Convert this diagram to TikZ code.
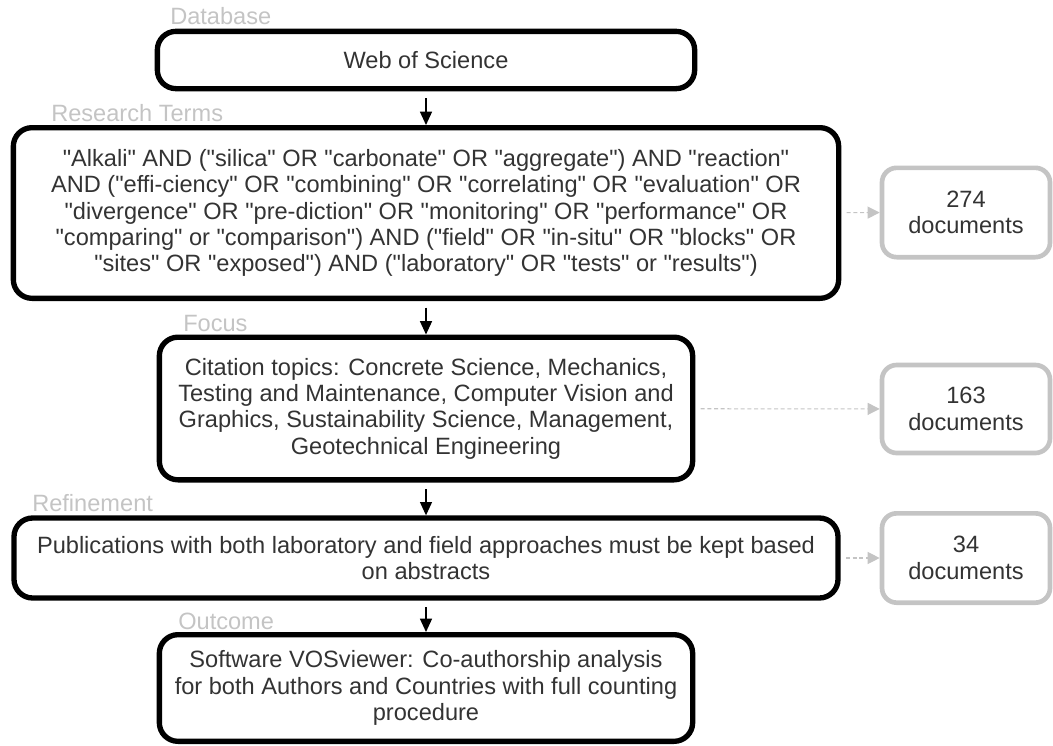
\documentclass[tikz,border=0pt]{standalone}
\usepackage{fontspec}
\setmainfont{Liberation Sans}[Ligatures=TeXOff]
\usetikzlibrary{positioning,calc,arrows.meta}

\definecolor{stagegray}{HTML}{C4C4C4}
\definecolor{textgray}{HTML}{333333}

\tikzset{
	stagebox/.style={draw=black, line width=4pt, rounded corners=14pt, align=center,
		text=textgray, font=\fontsize{17.7}{19.8}\selectfont, inner sep=0pt},
	countbox/.style={draw=stagegray, line width=3.5pt, rounded corners=11pt, align=center,
		text=textgray, font=\fontsize{17.7}{19.8}\selectfont, inner sep=0pt,
		minimum width=126pt},
	stagelabel/.style={anchor=west, text=stagegray, font=\fontsize{17.7}{20}\selectfont, inner sep=0pt},
	flow/.style={-{Triangle[length=10pt,width=9pt]}, line width=1pt, shorten <=5pt},
	countflow/.style={-{Triangle[length=9pt,width=9pt]}, draw=stagegray, line width=0.8pt,
		dashed, dash pattern=on 3pt off 2pt, shorten <=4pt}
}

\begin{document}
\begin{tikzpicture}[x=0.75pt,y=-0.75pt]
			\useasboundingbox (0,0) rectangle (1053,746);
			
			\node[stagebox, minimum width=403pt, minimum height=43pt] (wos) at (426,60) {Web of Science};
			\node[stagebox, minimum width=619pt, minimum height=128pt] (terms) at (426,213) {"Alkali" AND ("silica" OR "carbonate" OR "aggregate") AND "reaction"\\ AND ("effi-ciency" OR "combining" OR "correlating" OR "evaluation" OR\\ "divergence" OR "pre-diction" OR "monitoring" OR "performance" OR\\ "comparing" or "comparison") AND ("field" OR "in-situ" OR "blocks" OR\\ "sites" OR "exposed") AND ("laboratory" OR "tests" or "results")};
			\node[stagebox, minimum width=400pt, minimum height=107pt] (focus) at (426,408.5) {Citation topics: Concrete Science, Mechanics,\\ Testing and Maintenance, Computer Vision and\\ Graphics, Sustainability Science, Management,\\ Geotechnical Engineering};
			\node[stagebox, minimum width=618pt, minimum height=60pt] (refine) at (426,558) {Publications with both laboratory and field approaches must be kept based\\ on abstracts};
			\node[stagebox, minimum width=400pt, minimum height=80pt] (outcome) at (426,688) {Software VOSviewer: Co-authorship analysis\\ for both Authors and Countries with full counting\\ procedure};
			
			\node[countbox, minimum height=67pt] (terms count) at (966,212.5) {274\\ documents};
			\node[countbox, minimum height=66pt] (focus count) at (966,409) {163\\ documents};
			\node[countbox, minimum height=67pt] (refine count) at (966,558) {34\\ documents};
			
			\node[stagelabel] (wos label) at (170,16) {Database};
			\node[stagelabel] (terms label) at (51,113) {Research Terms};
			\node[stagelabel] (focus label) at (183,323) {Focus};
			\node[stagelabel] (refine label) at (32,503) {Refinement};
			\node[stagelabel] (outcome label) at (178,621) {Outcome};
			
			\draw[flow] (wos) -- (terms);
			\draw[flow] (terms) -- (focus);
			\draw[flow] (focus) -- (refine);
			\draw[flow] (refine) -- (outcome);
			
			\draw[countflow] (terms) -- (terms count);
			\draw[countflow] (focus) -- (focus count);
			\draw[countflow] (refine) -- (refine count);
		\end{tikzpicture}
\end{document}
